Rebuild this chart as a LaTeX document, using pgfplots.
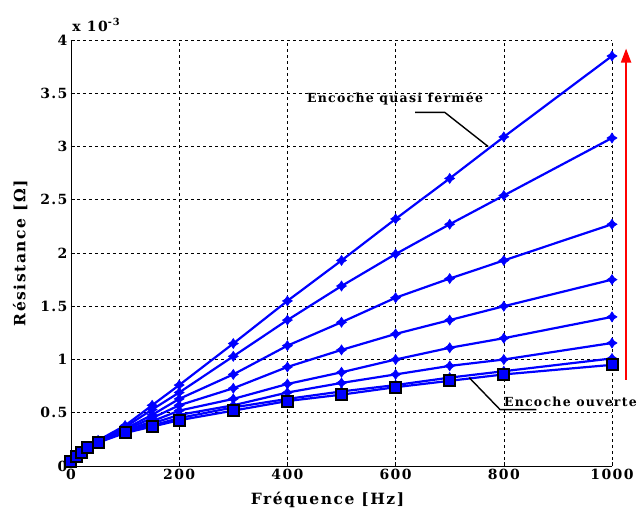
\documentclass[border=0pt]{standalone}
\usepackage{fontspec}
\setmainfont{DejaVu Serif}
\newfontfamily\lsfont[LetterSpace=10]{DejaVu Serif}
\usepackage{pgfplots}
\pgfplotsset{compat=1.18}
\usepackage{pgfplotstable}
\usetikzlibrary{arrows.meta,plotmarks}

\pgfdeclareplotmark{fstar}{%
  \pgfpathmoveto{\pgfqpoint{0pt}{\pgfplotmarksize}}%
  \pgfpathlineto{\pgfqpoint{0.4\pgfplotmarksize}{0.4\pgfplotmarksize}}%
  \pgfpathlineto{\pgfqpoint{\pgfplotmarksize}{0pt}}%
  \pgfpathlineto{\pgfqpoint{0.4\pgfplotmarksize}{-0.4\pgfplotmarksize}}%
  \pgfpathlineto{\pgfqpoint{0pt}{-\pgfplotmarksize}}%
  \pgfpathlineto{\pgfqpoint{-0.4\pgfplotmarksize}{-0.4\pgfplotmarksize}}%
  \pgfpathlineto{\pgfqpoint{-\pgfplotmarksize}{0pt}}%
  \pgfpathlineto{\pgfqpoint{-0.4\pgfplotmarksize}{0.4\pgfplotmarksize}}%
  \pgfpathclose
  \pgfusepathqfillstroke}

\pgfplotstableread{
f    c1    c2    c3    c4    c5    c6    c7    c8
0    0.04  0.04  0.04  0.04  0.04  0.04  0.04  0.04
10   0.09  0.09  0.09  0.09  0.09  0.09  0.09  0.085
20   0.135 0.135 0.135 0.13  0.13  0.13  0.13  0.13
30   0.18  0.18  0.175 0.175 0.17  0.17  0.17  0.17
50   0.24  0.235 0.23  0.23  0.225 0.225 0.22  0.22
100  0.38  0.365 0.35  0.34  0.33  0.325 0.32  0.31
150  0.57  0.53  0.48  0.45  0.42  0.40  0.38  0.37
200  0.76  0.69  0.63  0.57  0.52  0.48  0.45  0.43
300  1.15  1.03  0.86  0.73  0.63  0.57  0.55  0.52
400  1.55  1.37  1.13  0.93  0.77  0.69  0.63  0.61
500  1.93  1.69  1.35  1.09  0.88  0.78  0.70  0.67
600  2.32  1.99  1.58  1.24  1.00  0.86  0.76  0.74
700  2.70  2.27  1.76  1.37  1.11  0.94  0.83  0.80
800  3.09  2.54  1.93  1.50  1.20  1.00  0.89  0.86
1000 3.85  3.08  2.27  1.75  1.40  1.155 1.01  0.95
}\data

\begin{document}
\begin{tikzpicture}
\begin{axis}[
  scale only axis, width=541pt, height=426pt,
  xmin=0, xmax=1000, ymin=0, ymax=4,
  xtick={0,200,...,1000}, ytick={0,0.5,...,4},
  axis x line*=bottom, axis y line*=left,
  axis line style={-, black, line width=0.8pt},
  tick align=inside, major tick length=4pt,
  tick style={black, line width=0.6pt},
  grid=major, grid style={black, dash pattern=on 3pt off 3pt, line width=0.6pt},
  /pgf/number format/assume math mode=true,
  /pgf/number format/1000 sep={},
  tick label style={font=\lsfont\bfseries\fontsize{14}{16}\selectfont},
  xlabel={Fréquence [Hz]}, ylabel={Résistance [Ω]},
  label style={font=\lsfont\bfseries\fontsize{15.5}{17}\selectfont},
  xlabel style={yshift=-5pt, xshift=-14pt},
  ylabel style={yshift=6pt},
  clip=false,
  every axis plot/.append style={blue, line width=2.2pt},
]
\foreach \c in {c1,c2,c3,c4,c5,c6,c7}{
  \addplot[mark=fstar, mark size=5pt, mark options={fill=blue, draw=blue, line width=0.6pt}] table[x=f, y=\c] {\data};
}
\addplot[mark=square*, mark size=5.5pt, mark options={fill=blue, draw=black, line width=2pt}] table[x=f, y=c8] {\data};

\coordinate (O) at (rel axis cs:0,0);
\node[anchor=south west, font=\lsfont\bfseries\fontsize{14}{16}\selectfont, inner sep=0pt] at (axis description cs:0.002,1.02) {x 10\textsuperscript{-3}};

\node[font=\lsfont\bfseries\fontsize{12.5}{14}\selectfont] at (axis cs:599,3.45) {Encoche quasi fermée};
\draw[black, line width=1.4pt] (axis cs:636,3.32) -- (axis cs:691,3.32) -- (axis cs:771,3.00);

\node[anchor=west, font=\lsfont\bfseries\fontsize{12.5}{14}\selectfont, inner sep=0pt] at (axis cs:800,0.60) {Encoche ouverte};
\draw[black, line width=1.4pt] (axis cs:736,0.83) -- (axis cs:793,0.53) -- (axis cs:860,0.53);

\draw[red, line width=2pt, -{Triangle[length=14pt,width=10pt]}] (axis cs:1026,0.81) -- (axis cs:1026,3.92);
\end{axis}
\pgfresetboundingbox
\path (O) ++(-71pt,-49pt) rectangle ++(637pt,515pt);
\end{tikzpicture}
\end{document}
